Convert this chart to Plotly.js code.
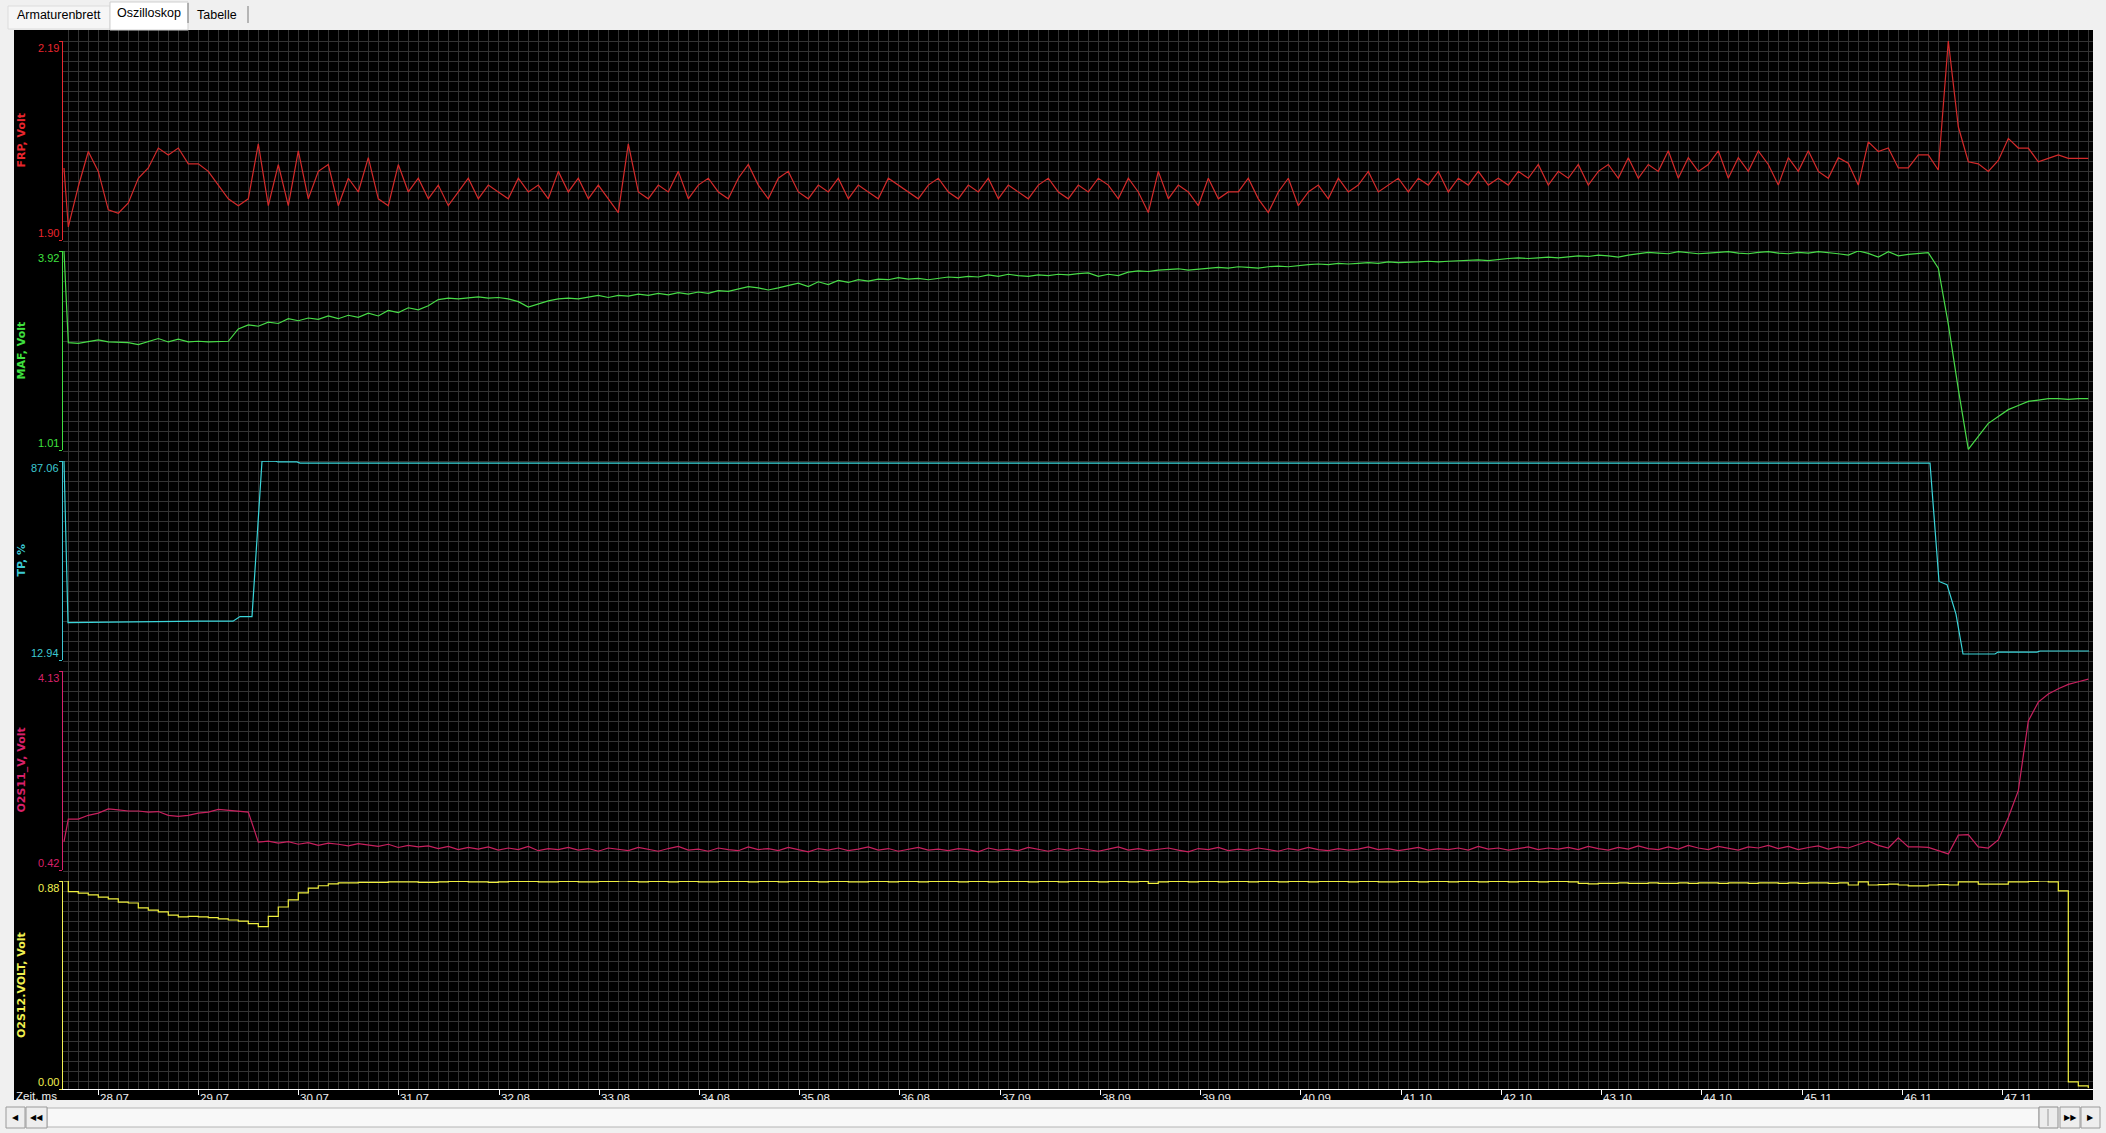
<!DOCTYPE html>
<html><head><meta charset="utf-8">
<script src="https://cdn.plot.ly/plotly-3.0.1.min.js"></script>
<style>html,body{margin:0;padding:0;background:#f0f0f0;overflow:hidden}#chart{width:2106px;height:1133px}</style>
</head><body><div id="chart"></div>
<script>
// ---------------- DATA ----------------
const tabLabels = ["Armaturenbrett", "Oszilloskop", "Tabelle"];
const channelNames = ["FRP, Volt", "MAF, Volt", "TP, %", "O2S11_V, Volt", "O2S12.VOLT, Volt"];
const axisMin = [1.90, 1.01, 12.94, 0.42, 0.00];
const axisMax = [2.19, 3.92, 87.06, 4.13, 0.88];
const timeTickLabels = ["28.07","29.07","30.07","31.07","32.08","33.08","34.08","35.08","36.08","37.09",
  "38.09","39.09","40.09","41.10","42.10","43.10","44.10","45.11","46.11","47.11"];
const timeAxisTitle = "Zeit, ms";
const timeRange = [27.72, 48.02];

// sampling grid (seconds): one start sample, then regular samples
const T_PRE = 27.73, T0 = 27.773, DT = 0.1, N_SAMPLES = 203;

const frp = [2.005,
 1.919,1.978,2.029,2.000,1.944,1.939,1.954,1.990,2.005,2.034,
 2.024,2.034,2.011,2.011,2.00,1.98,1.96,1.95,1.96,2.04,
 1.95,2.01,1.95,2.03,1.96,2.00,2.01,1.95,1.99,1.97,
 2.02,1.96,1.95,2.01,1.97,1.99,1.96,1.98,1.95,1.97,
 1.99,1.96,1.98,1.97,1.96,1.99,1.97,1.98,1.96,2.00,
 1.97,1.99,1.96,1.98,1.96,1.94,2.04,1.97,1.96,1.98,
 1.97,2.00,1.96,1.98,1.99,1.97,1.96,1.99,2.01,1.98,
 1.96,1.99,2.00,1.97,1.96,1.98,1.97,1.99,1.96,1.98,
 1.97,1.96,1.99,1.98,1.97,1.96,1.98,1.99,1.97,1.96,
 1.98,1.97,1.99,1.96,1.98,1.97,1.96,1.98,1.99,1.97,
 1.96,1.98,1.97,1.99,1.98,1.96,1.99,1.97,1.94,2.00,
 1.96,1.98,1.97,1.95,1.99,1.96,1.97,1.97,1.99,1.96,
 1.94,1.97,1.99,1.95,1.97,1.98,1.96,1.99,1.97,1.98,
 2.00,1.97,1.98,1.99,1.97,1.99,1.98,2.00,1.97,1.99,
 1.98,2.00,1.98,1.99,1.98,2.00,1.99,2.01,1.98,2.00,
 1.99,2.01,1.98,2.00,2.01,1.99,2.02,1.99,2.01,2.00,
 2.03,1.99,2.02,2.00,2.01,2.03,1.99,2.02,2.00,2.03,
 2.01,1.98,2.02,2.00,2.03,2.00,1.99,2.02,2.012,1.980,
 2.043,2.029,2.034,2.005,2.005,2.024,2.024,2.002,2.19,2.065,
 2.014,2.011,2.000,2.016,2.048,2.034,2.034,2.014,2.019,2.024,
 2.019,2.019,2.019];

const maf = [3.92,
 2.58,2.57,2.59,2.62,2.59,2.58,2.58,2.55,2.59,2.64,
 2.59,2.63,2.59,2.60,2.59,2.59,2.60,2.78,2.84,2.82,
 2.88,2.86,2.93,2.90,2.94,2.92,2.97,2.93,2.98,2.95,
 3.01,2.97,3.05,3.02,3.09,3.06,3.12,3.21,3.23,3.22,
 3.24,3.25,3.23,3.24,3.22,3.18,3.10,3.15,3.19,3.22,
 3.23,3.22,3.25,3.27,3.24,3.27,3.26,3.29,3.27,3.30,
 3.28,3.31,3.29,3.32,3.30,3.34,3.33,3.36,3.40,3.38,
 3.35,3.38,3.42,3.45,3.40,3.47,3.43,3.49,3.46,3.50,
 3.48,3.51,3.50,3.53,3.51,3.52,3.50,3.52,3.54,3.53,
 3.55,3.54,3.57,3.55,3.58,3.56,3.55,3.57,3.56,3.58,
 3.57,3.59,3.60,3.55,3.58,3.56,3.61,3.63,3.62,3.64,
 3.65,3.66,3.64,3.65,3.66,3.68,3.67,3.69,3.68,3.67,
 3.69,3.70,3.69,3.71,3.72,3.73,3.72,3.74,3.73,3.74,
 3.75,3.74,3.76,3.75,3.75,3.76,3.77,3.76,3.77,3.78,
 3.78,3.79,3.78,3.80,3.81,3.82,3.81,3.82,3.83,3.82,
 3.84,3.85,3.84,3.86,3.85,3.83,3.86,3.88,3.90,3.89,
 3.88,3.91,3.90,3.88,3.89,3.90,3.91,3.89,3.88,3.90,
 3.91,3.89,3.88,3.90,3.89,3.91,3.90,3.88,3.86,3.92,
 3.885,3.83,3.91,3.85,3.87,3.88,3.895,3.67,2.85,1.90,
 1.02,1.21,1.40,1.50,1.60,1.66,1.72,1.74,1.76,1.76,
 1.75,1.76,1.76];

const o2s11 = [0.95,
 1.37,1.37,1.44,1.48,1.56,1.54,1.52,1.52,1.50,1.51,
 1.44,1.42,1.44,1.48,1.50,1.55,1.53,1.52,1.50,0.94,
 0.96,0.92,0.95,0.90,0.93,0.88,0.92,0.90,0.87,0.91,
 0.88,0.86,0.90,0.84,0.88,0.85,0.87,0.82,0.86,0.80,
 0.84,0.81,0.85,0.79,0.83,0.80,0.86,0.78,0.82,0.80,
 0.84,0.79,0.82,0.77,0.83,0.80,0.78,0.84,0.80,0.77,
 0.82,0.86,0.79,0.81,0.77,0.83,0.80,0.78,0.85,0.80,
 0.82,0.78,0.84,0.80,0.76,0.82,0.79,0.83,0.78,0.81,
 0.85,0.79,0.82,0.77,0.80,0.84,0.79,0.81,0.78,0.82,
 0.80,0.76,0.83,0.79,0.81,0.78,0.84,0.80,0.77,0.82,
 0.79,0.83,0.80,0.77,0.81,0.85,0.79,0.82,0.78,0.80,
 0.83,0.79,0.76,0.82,0.80,0.84,0.78,0.81,0.79,0.83,
 0.80,0.77,0.82,0.79,0.84,0.80,0.78,0.82,0.79,0.81,
 0.85,0.80,0.82,0.78,0.81,0.84,0.79,0.82,0.80,0.83,
 0.79,0.86,0.81,0.83,0.79,0.82,0.85,0.80,0.83,0.81,
 0.84,0.80,0.86,0.82,0.79,0.84,0.81,0.87,0.82,0.80,
 0.85,0.81,0.88,0.83,0.80,0.86,0.82,0.79,0.85,0.83,
 0.88,0.82,0.86,0.80,0.84,0.87,0.81,0.85,0.83,0.90,
 0.96,0.88,0.83,1.02,0.85,0.85,0.84,0.78,0.72,1.07,
 1.08,0.85,0.83,0.98,1.40,1.90,3.20,3.55,3.70,3.80,
 3.88,3.93,3.98];

const o2s12 = [0.88,
 0.835,0.829,0.821,0.812,0.804,0.791,0.787,0.766,0.757,0.749,
 0.736,0.728,0.730,0.728,0.725,0.720,0.715,0.710,0.700,0.687,
 0.730,0.770,0.800,0.830,0.850,0.860,0.868,0.872,0.872,0.874,
 0.874,0.874,0.876,0.876,0.876,0.874,0.874,0.876,0.878,0.878,
 0.876,0.876,0.874,0.876,0.878,0.878,0.878,0.876,0.876,0.878,
 0.878,0.876,0.876,0.878,0.878,0.880,0.878,0.876,0.878,0.878,
 0.876,0.878,0.878,0.876,0.876,0.878,0.878,0.878,0.876,0.878,
 0.878,0.876,0.878,0.878,0.878,0.876,0.878,0.878,0.876,0.876,
 0.878,0.878,0.876,0.878,0.878,0.876,0.878,0.878,0.878,0.876,
 0.878,0.878,0.876,0.878,0.878,0.878,0.876,0.878,0.878,0.876,
 0.878,0.878,0.878,0.876,0.878,0.878,0.876,0.878,0.870,0.876,
 0.878,0.878,0.876,0.878,0.878,0.876,0.878,0.878,0.876,0.878,
 0.878,0.876,0.878,0.878,0.876,0.878,0.878,0.878,0.876,0.878,
 0.878,0.876,0.876,0.878,0.878,0.876,0.878,0.878,0.876,0.878,
 0.878,0.876,0.878,0.878,0.876,0.878,0.878,0.876,0.878,0.878,
 0.876,0.870,0.868,0.870,0.870,0.872,0.870,0.870,0.872,0.870,
 0.870,0.872,0.870,0.872,0.872,0.870,0.872,0.872,0.870,0.872,
 0.872,0.870,0.872,0.870,0.872,0.872,0.870,0.872,0.863,0.876,
 0.863,0.865,0.867,0.863,0.859,0.859,0.863,0.865,0.863,0.876,
 0.876,0.867,0.867,0.867,0.876,0.876,0.878,0.880,0.876,0.838,
 0.030,0.013,0.004];

const tpTimes = [27.73,27.77,29.09,29.42,29.49,29.61,29.71,29.84,29.87,30.06,30.09,46.39,46.48,46.56,46.65,46.72,47.04,47.07,47.46,47.49,47.98];
const tpValues = [87.06,26.9,27.4,27.4,29.1,29.1,87.05,87.05,86.7,86.7,86.3,86.3,42.2,41.0,30.0,15.17,15.17,15.9,15.9,16.3,16.3];

// ---------------- STYLE / GEOMETRY ----------------
const W = 2106, H = 1133;
const PL = 14, PT = 30, PW = 2079, PH = 1072;
const fx = px => (px - PL) / PW;
const fy = py => (PT + PH - py) / PH;
const AXIS_X = 63, RIGHT_X = 2093, GRID_BOTTOM = 1090;
const panelTop = [41, 251, 461, 671, 881];
const panelBottom = [240, 450, 660, 870, 1089];
const labelColors = ['#e8262e', '#3fe03f', '#3cc8d2', '#d8206a', '#f0f050'];
const lineColors = ['#d42a2a', '#48dc48', '#3ad6da', '#c8205e', '#f0f040'];

const sampleTimes = [T_PRE];
for (let i = 0; i < N_SAMPLES; i++) sampleTimes.push(+(T0 + i * DT).toFixed(3));

const seriesX = [sampleTimes, sampleTimes, tpTimes, sampleTimes, sampleTimes];
const seriesY = [frp, maf, tpValues, o2s11, o2s12];
const lineShapes = ['linear', 'linear', 'linear', 'linear', 'hv'];

const traces = [{x: [], y: [], xaxis: 'x', yaxis: 'y', type: 'scatter', mode: 'lines', hoverinfo: 'skip', showlegend: false}];
for (let k = 0; k < 5; k++) {
  traces.push({
    x: seriesX[k], y: seriesY[k], type: 'scatter', mode: 'lines',
    xaxis: 'x2', yaxis: 'y' + (k + 2), name: channelNames[k],
    line: {color: lineColors[k], width: 1.2, shape: lineShapes[k]},
    showlegend: false, hoverinfo: 'x+y', cliponaxis: false
  });
}

const layout = {
  width: W, height: H,
  margin: {l: PL, r: W - PL - PW, t: PT, b: H - PT - PH, pad: 0},
  paper_bgcolor: '#f0f0f0', plot_bgcolor: 'rgba(0,0,0,0)',
  showlegend: false,
  // background grid (pixel-spaced)
  xaxis: {domain: [fx(AXIS_X), fx(RIGHT_X)], range: [AXIS_X, RIGHT_X], anchor: 'y', tick0: 68.3, dtick: 10,
          showgrid: true, gridcolor: '#333333', gridwidth: 1, showticklabels: false, ticks: '', showline: false, zeroline: false, fixedrange: true},
  yaxis: {domain: [fy(GRID_BOTTOM), fy(PT)], range: [GRID_BOTTOM, PT], anchor: 'x', tick0: 31, dtick: 10,
          showgrid: true, gridcolor: '#333333', gridwidth: 1, showticklabels: false, ticks: '', showline: false, zeroline: false, fixedrange: true},
  xaxis2: {domain: [fx(AXIS_X), fx(RIGHT_X)], range: timeRange, anchor: 'y6',
           showline: true, linecolor: '#ffffff', linewidth: 1, ticks: 'outside', ticklen: 5, tickcolor: '#ffffff', tickwidth: 1,
           tickvals: timeTickLabels.map(parseFloat), showticklabels: false, showgrid: false, zeroline: false},
  shapes: [], annotations: []
};

for (let k = 0; k < 5; k++) {
  layout['yaxis' + (k + 2)] = {
    domain: [fy(panelBottom[k]), fy(panelTop[k])], range: [axisMin[k], axisMax[k]], anchor: 'x2',
    showline: true, linecolor: labelColors[k], linewidth: 1, ticks: 'outside', ticklen: 3, tickwidth: 1,
    tickcolor: labelColors[k], tickvals: [axisMin[k], axisMax[k]], showticklabels: false,
    showgrid: false, zeroline: false
  };
  const tickFont = {family: 'Liberation Sans, Arial, sans-serif', size: 11, color: labelColors[k]};
  layout.annotations.push({xref: 'paper', yref: 'y' + (k + 2), x: fx(60), y: axisMax[k], xanchor: 'right', yanchor: 'top',
    text: axisMax[k].toFixed(2), showarrow: false, font: tickFont, borderpad: 0});
  layout.annotations.push({xref: 'paper', yref: 'y' + (k + 2), x: fx(60), y: axisMin[k], xanchor: 'right', yanchor: 'bottom',
    text: axisMin[k].toFixed(2), showarrow: false, font: tickFont, borderpad: 0});
  layout.annotations.push({xref: 'paper', yref: 'y' + (k + 2) + ' domain', x: fx(21), y: 0.5, xanchor: 'center', yanchor: 'middle',
    text: channelNames[k], textangle: -90, showarrow: false,
    font: {family: 'DejaVu Sans, Verdana, sans-serif', size: 11, color: labelColors[k], weight: 'bold'}});
}

// x tick labels (left aligned after each tick)
const xFont = {family: 'Liberation Sans, Arial, sans-serif', size: 11.5, color: '#f0f0f0'};
timeTickLabels.forEach(lbl => {
  layout.annotations.push({xref: 'x2', yref: 'paper', x: parseFloat(lbl), y: fy(GRID_BOTTOM + 1), xanchor: 'left', yanchor: 'top',
    xshift: 1, text: lbl, showarrow: false, font: xFont, borderpad: 0});
});
layout.annotations.push({xref: 'paper', yref: 'paper', x: fx(15), y: fy(GRID_BOTTOM - 1), xanchor: 'left', yanchor: 'top',
  text: timeAxisTitle, showarrow: false, font: xFont, borderpad: 0});

// black instrument background
layout.shapes.push({type: 'rect', xref: 'paper', yref: 'paper', x0: 0, x1: fx(RIGHT_X), y0: fy(1100), y1: 1, layer: 'below',
  fillcolor: '#000000', line: {width: 0}});

// tabs
const rectPx = (x0, x1, y0, y1, fill, lineCol) => ({type: 'rect', xref: 'paper', yref: 'paper',
  x0: fx(x0), x1: fx(x1), y0: fy(y1), y1: fy(y0), fillcolor: fill, line: {color: lineCol || fill, width: lineCol ? 1 : 0}, layer: 'above'});
const linePx = (x0, y0, x1, y1, col) => ({type: 'line', xref: 'paper', yref: 'paper', x0: fx(x0), x1: fx(x1), y0: fy(y0), y1: fy(y1),
  line: {color: col, width: 1}, layer: 'above'});
layout.shapes.push(rectPx(8, 110, 6, 29, '#f6f6f6', '#dcdcdc'));
layout.shapes.push(rectPx(110, 188, 2, 30, '#ffffff', '#cfcfcf'));
layout.shapes.push(linePx(188, 3, 188, 23, '#7a7a7a'));
layout.shapes.push(linePx(248, 6, 248, 23, '#7a7a7a'));
const tabFont = {family: 'Liberation Sans, Arial, sans-serif', size: 12.5, color: '#000000'};
const tabCenters = [[59, 15], [149, 12.5], [217, 15]];
tabLabels.forEach((t, i) => layout.annotations.push({xref: 'paper', yref: 'paper', x: fx(tabCenters[i][0]), y: fy(tabCenters[i][1]),
  xanchor: 'center', yanchor: 'middle', text: t, showarrow: false, font: tabFont}));

// scrollbar
layout.shapes.push(rectPx(47, 2039, 1108, 1127, '#f8f8f8', '#b4b4b4'));
layout.shapes.push(rectPx(6, 25, 1107, 1128, '#eeeeee', '#9a9a9a'));
layout.shapes.push(rectPx(26, 47, 1107, 1128, '#eeeeee', '#9a9a9a'));
layout.shapes.push(rectPx(2039, 2058, 1107, 1128, '#ececec', '#8e8e8e'));
layout.shapes.push(linePx(2048, 1109, 2048, 1126, '#9a9a9a'));
layout.shapes.push(rectPx(2060, 2080, 1107, 1128, '#eeeeee', '#9a9a9a'));
layout.shapes.push(rectPx(2081, 2100, 1107, 1128, '#eeeeee', '#9a9a9a'));
const arrowFont = {family: 'DejaVu Sans, sans-serif', size: 8, color: '#000000'};
[['◀', 15.5], ['◀◀', 36.5], ['▶▶', 2070], ['▶', 2090.5]].forEach(a => layout.annotations.push({
  xref: 'paper', yref: 'paper', x: fx(a[1]), y: fy(1117.5), xanchor: 'center', yanchor: 'middle', text: a[0], showarrow: false, font: arrowFont}));

Plotly.newPlot('chart', traces, layout, {displayModeBar: false, staticPlot: true});
</script></body></html>
